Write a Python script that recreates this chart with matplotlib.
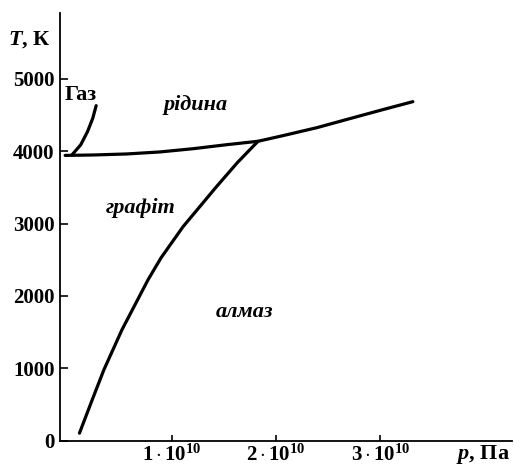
import matplotlib
matplotlib.use("Agg")
import matplotlib.pyplot as plt

# phase boundaries of carbon, p in units of 1e10 Pa, T in K
gas_p = [0.048, 0.130, 0.195, 0.245, 0.278]
gas_T = [3950, 4086, 4268, 4451, 4627]

melt_p = [-0.019, 0.252, 0.571, 0.890, 1.209, 1.528, 1.828, 2.067, 2.392, 2.708, 3.024, 3.311]
melt_T = [3940, 3946, 3960, 3988, 4033, 4088, 4135, 4213, 4323, 4448, 4572, 4682]

diam_p = [0.118, 0.240, 0.352, 0.525, 0.775, 0.900, 1.110, 1.430, 1.630, 1.828]
diam_T = [106, 566, 981, 1533, 2224, 2528, 2956, 3508, 3840, 4135]

x_ticks = [1, 2, 3]
x_tick_labels = [r"$\mathbf{1\cdot10^{10}}$", r"$\mathbf{2\cdot10^{10}}$", r"$\mathbf{3\cdot10^{10}}$"]
y_ticks = [0, 1000, 2000, 3000, 4000, 5000]

plt.rcParams['font.family'] = ['Liberation Serif', 'DejaVu Serif']
plt.rcParams['mathtext.fontset'] = 'custom'
plt.rcParams['mathtext.rm'] = 'Liberation Serif'
plt.rcParams['mathtext.bf'] = 'Liberation Serif:bold'
plt.rcParams['mathtext.it'] = 'Liberation Serif:italic'
plt.rcParams['mathtext.bfit'] = 'Liberation Serif:italic:bold'

fig = plt.figure(figsize=(5.14, 4.70), dpi=100)
ax = fig.add_axes([0.117, 0.062, 0.879, 0.911])

lw = 2.3
for px, ty in [(gas_p, gas_T), (melt_p, melt_T), (diam_p, diam_T)]:
    ax.plot(px, ty, color='black', lw=lw, solid_capstyle='round', solid_joinstyle='round')

ax.set_xlim(-0.067, 4.26)
ax.set_ylim(0, 5910)

for s in ['top', 'right']:
    ax.spines[s].set_visible(False)
for s in ['left', 'bottom']:
    ax.spines[s].set_linewidth(1.3)

ax.set_xticks(x_ticks)
ax.set_xticklabels(x_tick_labels)
ax.set_yticks(y_ticks)
ax.set_yticklabels([str(v) for v in y_ticks], fontweight='bold')
ax.tick_params(axis='y', direction='in', length=6, width=1.2, labelsize=15, pad=4)
ax.tick_params(axis='x', direction='in', length=4, width=1.2, labelsize=15, pad=3)

# axis titles
fig.text(0.015, 0.915, r"$\mathbfit{T}$, К", fontsize=16, fontweight='bold', ha='left', va='center')
fig.text(0.993, 0.032, r"$\mathbfit{p}$, Па", fontsize=16, fontweight='bold', ha='right', va='center')

# region labels
ax.text(-0.02, 4780, "Газ", fontsize=16, fontweight='bold', ha='left', va='center')
ax.text(1.234, 4641, "рідина", fontsize=16, fontweight='bold', style='italic', ha='center', va='center')
ax.text(0.70, 3218, "графіт", fontsize=16, fontweight='bold', style='italic', ha='center', va='center')
ax.text(1.70, 1782, "алмаз", fontsize=16, fontweight='bold', style='italic', ha='center', va='center')

fig.savefig("out.png", dpi=100)
